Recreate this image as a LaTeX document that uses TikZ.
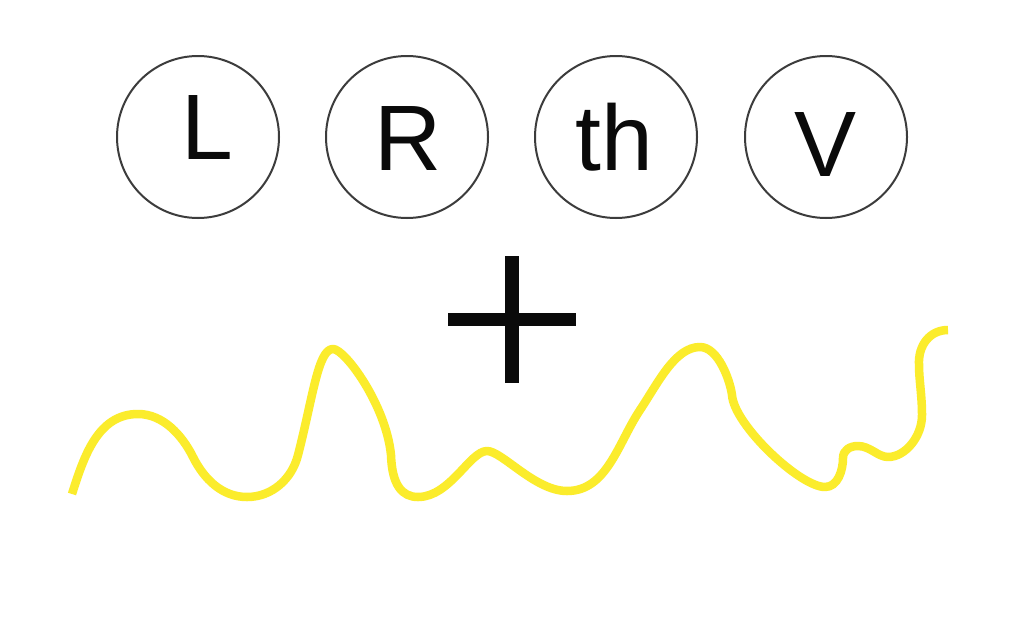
\documentclass[tikz,border=0pt]{standalone}
\usepackage{fontspec}
\setmainfont{Liberation Sans}
\definecolor{wave}{RGB}{251,236,44}
\definecolor{ring}{RGB}{60,60,60}
\definecolor{ink}{RGB}{10,10,10}
\begin{document}
\begin{tikzpicture}[x=1pt,y=-1pt,
  ringbox/.style={circle,draw=ring,line width=2pt,minimum size=162pt,inner sep=0pt},
  letter/.style={anchor=base,inner sep=0pt,text=ink,font=\fontsize{93}{93}\selectfont},
  bar/.style={draw=none,fill=ink},
  wavy/.style={draw=wave,line width=8.5pt,line cap=butt,line join=round}]
\fill[white] (0,0) rectangle (1024,640);
\useasboundingbox (0,0) rectangle (1024,640);
\node[ringbox] (cL) at (198,137) {};
\node[ringbox] (cR) at (407,137) {};
\node[ringbox] (cth) at (616,137) {};
\node[ringbox] (cV) at (826,137) {};
\node[letter] (tL) at (207,159) {L};
\node[letter] (tR) at (408,170) {R};
\node[letter] (tth) at (614,170) {th};
\node[letter] (tV) at (826,176) {V};
\fill[bar] (448,313) rectangle (576,326);
\fill[bar] (505,256) rectangle (519,383);
\coordinate (w0) at (72,494);
\coordinate (w1) at (948,330);
\draw[wavy] (w0)
  .. controls (84,456) and (98,414) .. (138,414)
  .. controls (163,414) and (182,435) .. (193,457)
  .. controls (204,479) and (222,497) .. (247,497)
  .. controls (272,497) and (292,479) .. (298,455)
  .. controls (313,397) and (318,349) .. (333,349)
  .. controls (345,349) and (386,405) .. (391,455)
  .. controls (392,485) and (402,497) .. (418,497)
  .. controls (450,497) and (470,451) .. (487,451)
  .. controls (502,451) and (535,491) .. (567,491)
  .. controls (607,491) and (618,443) .. (640,410)
  .. controls (658,383) and (675,347) .. (700,347)
  .. controls (718,347) and (730,380) .. (732,395)
  .. controls (734,425) and (800,487) .. (825,487)
  .. controls (838,487) and (843,470) .. (843,458)
  .. controls (843,450) and (850,446) .. (858,446)
  .. controls (870,446) and (878,457) .. (888,457)
  .. controls (905,457) and (922,437) .. (922,415)
  .. controls (922,395) and (919,380) .. (919,365)
  .. controls (918,345) and (930,330) .. (w1);
\end{tikzpicture}
\end{document}
